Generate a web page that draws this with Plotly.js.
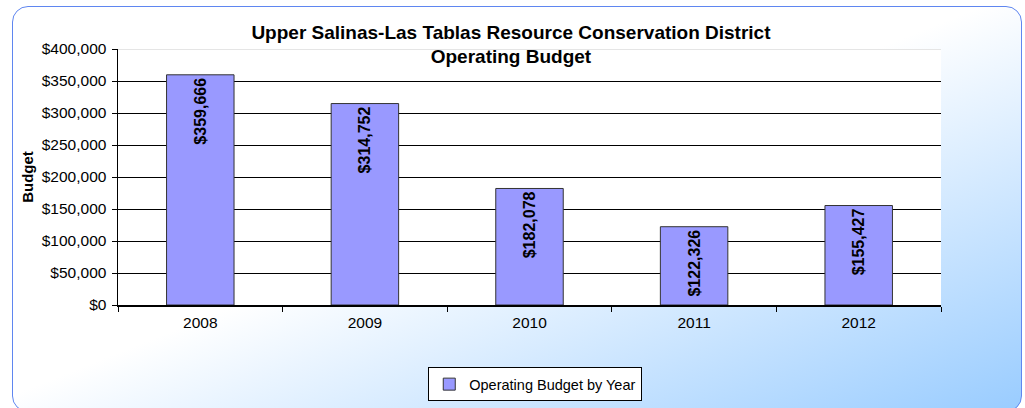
<!DOCTYPE html>
<html>
<head>
<meta charset="utf-8">
<script src="https://cdn.plot.ly/plotly-3.0.1.min.js"></script>
<style>
html,body{margin:0;padding:0;width:1025px;height:408px;overflow:hidden;background:#fff;}
#bg{position:absolute;left:12px;top:6px;width:1010px;height:406px;box-sizing:border-box;border:1.5px solid #5f86f0;border-radius:16px;
background:linear-gradient(to bottom right,#ffffff 0%,#ffffff 48%,#99ccff 100%);}
#chart{position:absolute;left:0;top:0;width:1025px;height:408px;}
</style>
</head>
<body>
<div id="bg"></div>
<div id="chart"></div>
<script>
const years = ['2008','2009','2010','2011','2012'];
const budget = [359666, 314752, 182078, 122326, 155427];
const labels = ['$359,666','$314,752','$182,078','$122,326','$155,427'];
const seriesName = 'Operating Budget by Year';
const yTickVals = [0,50000,100000,150000,200000,250000,300000,350000,400000];
const yTickText = ['$0','$50,000','$100,000','$150,000','$200,000','$250,000','$300,000','$350,000','$400,000'];

const font = 'Liberation Sans, Arial, sans-serif';
Plotly.newPlot('chart', [{
  type:'bar', x:years, y:budget, name:seriesName,
  text:labels, textposition:'inside', insidetextanchor:'end', textangle:-90,
  textfont:{family:font, size:16, color:'#000', weight:'bold'},
  constraintext:'none',
  marker:{color:'#9999ff', line:{color:'#333333', width:1}},
  hoverinfo:'none'
}], {
  width:1025, height:408,
  paper_bgcolor:'rgba(0,0,0,0)', plot_bgcolor:'#ffffff',
  margin:{l:118, r:84, t:49, b:103, autoexpand:false},
  bargap:0.59,
  showlegend:true,
  title:{text:'<b>Upper Salinas-Las Tablas Resource Conservation District<br>Operating Budget</b>',
    font:{family:font, size:19, color:'#000'}, xref:'container', x:0.4985, xanchor:'center',
    yref:'container', y:0.905, yanchor:'top'},
  xaxis:{type:'category', tickfont:{family:font, size:15.5, color:'#000'}, ticklabelstandoff:3,
    showline:true, linecolor:'#000', linewidth:1.5, ticks:'outside', tickson:'boundaries', ticklen:5, tickcolor:'#000',
    showgrid:false},
  yaxis:{range:[0,400000], tickvals:yTickVals, ticktext:yTickText,
    tickfont:{family:font, size:15.5, color:'#000'}, ticklabelstandoff:2,
    showline:true, linecolor:'#000', linewidth:1.5, ticks:'outside', ticklen:5, tickcolor:'#000',
    showgrid:true, gridcolor:'#000', gridwidth:1, zeroline:false,
    title:{text:'<b>Budget</b>', font:{family:font, size:15, color:'#000'}, standoff:4}},
  legend:{orientation:'h', x:0.507, xanchor:'center', yref:'container', y:0.1, yanchor:'top',
    bgcolor:'#ffffff', bordercolor:'#000', borderwidth:1,
    font:{family:font, size:14.5, color:'#000'}, itemwidth:30},
  shapes:[{type:'line', xref:'paper', yref:'y', x0:0, x1:1, y0:400000, y1:400000, line:{color:'#cccccc', width:1}}]
}, {displayModeBar:false, staticPlot:true});
</script>
</body>
</html>
